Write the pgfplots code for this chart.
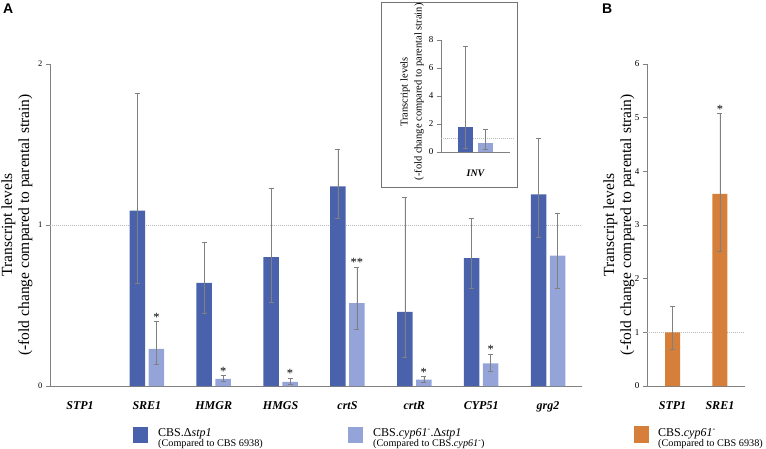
\documentclass[border=0pt]{standalone}
\usepackage{pgfplots}
\usepackage{pgfplotstable}
\pgfplotsset{compat=1.18}
\usepackage{fontspec}
\setmainfont{Liberation Serif}
\newfontfamily\hv{Liberation Sans}
\definecolor{dblue}{HTML}{4A62AB}
\definecolor{lblue}{HTML}{95A4D8}
\definecolor{orng}{HTML}{D67F3B}
\definecolor{axgray}{HTML}{808080}

\pgfplotstableread{
x y ep em
1 1.09 0.73 0.45
2 0.64 0.25 0.19
3 0.80 0.43 0.28
4 1.24 0.23 0.20
5 0.46 0.71 0.28
6 0.795 0.245 0.185
7 1.19 0.35 0.265
}\darkA
\pgfplotstableread{
x y ep em
1 0.23 0.17 0.093
2 0.045 0.02 0.015
3 0.025 0.025 0.017
4 0.515 0.225 0.165
5 0.04 0.02 0.015
6 0.14 0.06 0.05
7 0.81 0.26 0.20
}\lightA
\pgfplotstableread{
x y ep em
0 1.79 5.75 1.5
}\darkI
\pgfplotstableread{
x y ep em
0 0.64 1.0 0.44
}\lightI
\pgfplotstableread{
x y ep em
0 1.00 0.49 0.32
1 3.58 1.50 1.06
}\orB

\tikzset{sigstar/.style={anchor=south, inner sep=0pt, font=\fontsize{12.5}{12}\selectfont},
  refline/.style={axgray!55, dash pattern=on 1pt off 1pt, line width=0.5pt}}
\pgfplotsset{
  base/.style={scale only axis, axis x line=bottom, axis y line=left,
    axis line style={axgray,-,line width=0.6pt}, tick align=outside,
    major tick length=4pt, y tick style={axgray,line width=0.5pt},
    x tick style={draw=none}, /pgf/number format/assume math mode=true,
    ybar, clip=false,
    x tick label style={font=\bfseries\itshape\fontsize{12}{12}\selectfont, yshift=-8pt},
    y tick label style={font=\fontsize{8.5}{9}\selectfont}},
  eb/.style={error bars/.cd, y dir=both, y explicit,
    error bar style={axgray,line width=0.5pt},
    error mark options={rotate=90,axgray,mark size=2.5pt,line width=0.5pt}}
}

\begin{document}
\begin{tikzpicture}
\useasboundingbox (0,0) rectangle (766pt,448pt);

% Panel A
\begin{axis}[base, at={(50pt,62pt)}, anchor=south west, width=532pt, height=322pt,
  xmin=-0.449, xmax=7.508, ymin=0, ymax=2, ytick={0,1,2},
  xtick={0,...,7}, xticklabels={STP1,SRE1,HMGR,HMGS,crtS,crtR,CYP51,grg2},
  bar width=15.5pt]
\draw[refline] (axis cs:-0.449,1) -- (axis cs:7.508,1);
\addplot[fill=dblue, draw=none, bar shift=-9.5pt, eb] table[x=x,y=y,y error plus=ep,y error minus=em]{\darkA};
\addplot[fill=lblue, draw=none, bar shift=9.5pt, eb] table[x=x,y=y,y error plus=ep,y error minus=em]{\lightA};
\node[sigstar] at ([xshift=9.5pt]axis cs:1,0.40) {*};
\node[sigstar] at ([xshift=9.5pt]axis cs:2,0.065) {*};
\node[sigstar] at ([xshift=9.5pt]axis cs:3,0.05) {*};
\node[sigstar] at ([xshift=9.5pt]axis cs:4,0.74) {**};
\node[sigstar] at ([xshift=9.5pt]axis cs:5,0.06) {*};
\node[sigstar] at ([xshift=9.5pt]axis cs:6,0.20) {*};
\end{axis}
\node[rotate=90, align=center, font=\fontsize{15.5}{17}\selectfont] at (17pt,223pt)
  {Transcript levels\\(-fold change compared to parental strain)};
\node[anchor=north west, inner sep=0pt, font=\hv\bfseries\fontsize{14}{14}\selectfont] at (3pt,444pt) {A};

% Inset
\filldraw[fill=white, draw=axgray!90!black, line width=0.6pt] (381pt,446pt) rectangle (517pt,261pt);
\begin{axis}[base, at={(441pt,296pt)}, anchor=south west, width=69pt, height=112pt,
  xmin=-0.5, xmax=0.5, ymin=0, ymax=8, ytick={0,2,4,6,8},
  xtick={0}, xticklabels={INV}, bar width=15.5pt,
  x tick label style={font=\bfseries\itshape\fontsize{10}{10}\selectfont, yshift=-2pt},
  y tick label style={font=\fontsize{9}{9}\selectfont}]
\draw[refline] (axis cs:-0.5,1) -- (axis cs:0.55,1);
\addplot[fill=dblue, draw=none, bar shift=-10pt, eb] table[x=x,y=y,y error plus=ep,y error minus=em]{\darkI};
\addplot[fill=lblue, draw=none, bar shift=10pt, eb] table[x=x,y=y,y error plus=ep,y error minus=em]{\lightI};
\end{axis}
\node[rotate=90, align=center, font=\fontsize{10.5}{14}\selectfont] at (412pt,356pt)
  {Transcript levels\\(-fold change compared to parental strain)};

% Panel B
\begin{axis}[base, at={(647pt,62pt)}, anchor=south west, width=98pt, height=322pt,
  xmin=-0.54, xmax=1.53, ymin=0, ymax=6, ytick={0,...,6},
  xtick={0,1}, xticklabels={STP1,SRE1}, bar width=15pt,
  y tick label style={font=\fontsize{9}{9}\selectfont}]
\draw[refline] (axis cs:-0.54,1) -- (axis cs:1.53,1);
\addplot[fill=orng, draw=none, bar shift=0pt, eb] table[x=x,y=y,y error plus=ep,y error minus=em]{\orB};
\node[sigstar] at (axis cs:1,5.08) {*};
\end{axis}
\node[rotate=90, align=center, font=\fontsize{15.5}{17}\selectfont] at (619pt,223pt)
  {Transcript levels\\(-fold change compared to parental strain)};
\node[anchor=north west, inner sep=0pt, font=\hv\bfseries\fontsize{14}{14}\selectfont] at (602pt,444pt) {B};

% Legends
\fill[dblue] (133pt,5pt) rectangle (148pt,21pt);
\node[anchor=base west, inner sep=0pt, font=\fontsize{12}{12}\selectfont] at (158pt,12pt) {CBS.Δ\textit{stp1}};
\node[anchor=base west, inner sep=0pt, font=\fontsize{10.2}{10}\selectfont] at (158pt,1.5pt) {(Compared to CBS 6938)};
\fill[lblue] (348pt,5pt) rectangle (363pt,21pt);
\node[anchor=base west, inner sep=0pt, font=\fontsize{12}{12}\selectfont] at (373pt,12pt) {CBS.\textit{cyp61}\textsuperscript{-}.Δ\textit{stp1}};
\node[anchor=base west, inner sep=0pt, font=\fontsize{10.2}{10}\selectfont] at (373pt,1.5pt) {(Compared to CBS.\textit{cyp61}\textsuperscript{-})};
\fill[orng] (634pt,5pt) rectangle (649pt,22pt);
\node[anchor=base west, inner sep=0pt, font=\fontsize{12}{12}\selectfont] at (658pt,12pt) {CBS.\textit{cyp61}\textsuperscript{-}};
\node[anchor=base west, inner sep=0pt, font=\fontsize{10.2}{10}\selectfont] at (658pt,1.5pt) {(Compared to CBS 6938)};
\end{tikzpicture}
\end{document}
